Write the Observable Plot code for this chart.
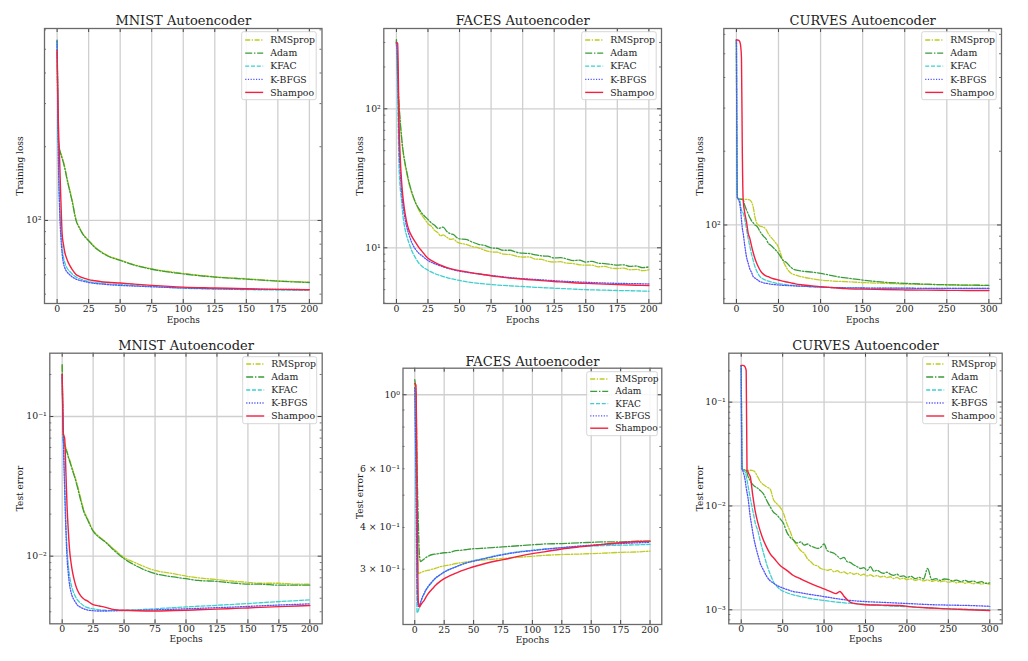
<!DOCTYPE html>
<html><head><meta charset="utf-8">
<script src="https://cdn.jsdelivr.net/npm/d3@7"></script>
<script src="https://cdn.jsdelivr.net/npm/@observablehq/plot@0.6"></script>
<style>
body{margin:0;background:#fff;}
#wrap{position:relative;width:1028px;height:661px;overflow:hidden;background:#fff;}
#wrap svg{position:absolute;}
</style></head><body><div id="wrap"></div>
<script>
// ================= DATA =================
const methods = ["RMSprop", "Adam", "KFAC", "K-BFGS", "Shampoo"];

// --- MNIST training loss ---
const mnistTrainEpochs = [0,1,2,3,4,5,6,8,10,12,15,18,20,25,30,35,40,50,60,75,100,125,150,175,200];
const mnistTrainRMSprop = [543,215,196,188,181,174,166,148,134,121,101,93,89,83,78,74.5,72,69,66.2,63.5,60.8,58.9,57.8,56.7,56.0];
const mnistTrainAdam = [545,210,194,186,179,172,164,146,132,119,100,92.5,88.5,82.6,77.5,74.2,71.6,68.7,66,63.2,60.5,58.7,57.6,56.5,55.8];
const mnistTrainKFAC = [540,190,118,92,78,71,67.5,63.8,62,60.4,58.7,57.8,57.3,56.3,55.8,55.4,55.1,54.7,54.3,53.8,52.9,52.5,52.2,52.0,51.9];
const mnistTrainKBFGS = [540,180,110,85,73,67,64.2,61.5,60,58.8,57.6,56.9,56.6,55.8,55.3,55,54.7,54.3,54,53.6,53,52.6,52.4,52.3,52.2];
const mnistTrainShampoo = [495,250,176,120,88,80,74.5,69,65.5,63,60.2,59,58.4,57.3,56.7,56.2,55.9,55.5,55,54.3,53.4,53,52.6,52.3,52.1];

// --- FACES training loss ---
const facesTrainEpochsNoisy = [0,1,2,3,4,5,6,8,10,12,14,16,18,20,22,25,28,30,33,35,37,40,43,45,48,50,55,60,65,70,75,80,85,90,95,100,105,110,115,120,125,130,135,140,145,150,155,160,165,170,175,180,185,190,195,200];
const facesTrainRMSprop = [310,160,105,78,62,51,44,35,29,25,22.3,20.3,18.5,17.2,16.3,14.9,14.2,13.4,12.8,12.2,12.4,11.9,11.5,11.6,11.0,10.8,10.6,10.2,10.0,9.6,9.35,9.3,9.0,8.95,8.7,8.58,8.6,8.3,8.25,8.0,7.9,7.95,7.75,7.7,7.55,7.5,7.5,7.3,7.35,7.15,7.1,7.15,6.95,7.0,6.85,6.95];
const facesTrainAdam = [315,170,112,82,64,52,45,36,29.5,25.5,22.5,20.3,19,17.8,17,16,15,14.6,13.8,13.9,14.1,13.1,12.6,12.5,11.8,11.6,11.5,11.0,10.6,10.4,10.0,9.9,9.6,9.6,9.3,9.15,9.1,8.9,8.75,8.7,8.45,8.5,8.3,8.1,8.15,7.9,8.0,7.75,7.7,7.6,7.5,7.55,7.35,7.4,7.2,7.3];
const facesTrainEpochs = [0,1,2,3,4,5,6,8,10,12,15,18,20,25,30,35,40,45,50,60,70,80,90,100,110,125,140,150,160,175,190,200];
const facesTrainKFAC = [300,120,40,27,22,17.5,15,12.3,10.8,9.6,8.5,7.7,7.4,6.9,6.55,6.3,6.1,5.95,5.82,5.62,5.5,5.4,5.33,5.27,5.2,5.12,5.05,5.0,4.97,4.93,4.9,4.87];
const facesTrainKBFGS = [300,200,60,36,26,21,18,14.3,12.4,11,9.8,9.1,8.8,8.1,7.7,7.4,7.15,6.95,6.8,6.58,6.4,6.25,6.1,6.0,5.92,5.8,5.7,5.65,5.6,5.55,5.52,5.5];
const facesTrainShampoo = [300,295,82,45,31,24,20,15.5,13.3,12.2,11,10,9.5,8.4,7.9,7.5,7.2,7.0,6.85,6.6,6.4,6.2,6.05,5.95,5.85,5.72,5.6,5.55,5.5,5.43,5.38,5.35];

// --- CURVES training loss ---
const curvesTrainEpochs = [0,1,2,3,4,5,6,7,8,10,12,14,16,18,20,22,24,26,28,30,32,35,38,40,45,50,55,60,65,70,80,90,100,110,120,130,150,175,200,225,250,275,300];
const curvesTrainRMSprop = [569,130,128,127.5,127.5,127.5,127.5,127.5,127.5,127.3,127.3,127,126.5,124,118,108,102,100,99,98.5,98,96,92,90,86,81,72,66.5,63.5,62.5,61.2,60.3,59.6,59.2,58.9,58.7,58.2,57.8,57.4,57.2,57,56.8,56.7];
const curvesTrainAdam = [569,130,128,127.5,127.5,127.5,127.3,127,126.5,120,115,111,107,104,102,100,99,97,94,92,90,88,84,83,80,76.6,72,70,67,65.5,64.7,64.2,63.5,62.5,61.5,60.8,59.6,58.4,57.8,57.3,57,56.8,56.7];
const curvesTrainKFAC = [569,130,128,127,126,120,115,113,112,105,96,88,81.6,76,71.5,67.6,65,63,61.5,60.7,60.1,59.5,59,58.7,58.1,57.6,57.3,57,56.8,56.5,56.2,55.9,55.7,55.6,55.5,55.4,55.3,55.2,55.2,55.1,55.1,55.1,55.1];
const curvesTrainKBFGS = [569,130,128,126,122,115,105,97,92.5,82,74,69.8,66,64,61.5,60.7,60,59.4,58.7,58.4,58.1,57.8,57.6,57.4,57.1,56.9,56.7,56.6,56.5,56.4,56.2,56,55.8,55.6,55.5,55.4,55.3,55.2,55.2,55.1,55.1,55.1,55.1];
const curvesTrainShampoo = [569,569,568,566,560,540,480,200,127,111.6,103,92.5,88,82,77,73,70,67.5,65.5,64,63,62,61.5,61,60.2,59.6,59,58.5,58,57.5,56.9,56.4,56,55.6,55.3,55,54.7,54.5,54.3,54.2,54.1,54.05,54];

// --- MNIST test error ---
const mnistTestEpochs = [0,1,2,3,4,5,6,7,8,10,12,15,18,20,25,30,35,40,45,50,60,75,90,100,110,125,140,150,160,175,190,200];
const mnistTestRMSprop = [0.232,0.068,0.064,0.060,0.056,0.052,0.049,0.046,0.043,0.038,0.033,0.026,0.0207,0.019,0.0153,0.0138,0.0127,0.0116,0.0106,0.0098,0.0089,0.0079,0.0075,0.0072,0.0070,0.0068,0.0066,0.0065,0.0064,0.0064,0.0063,0.0063];
const mnistTestAdam = [0.235,0.066,0.062,0.058,0.055,0.051,0.048,0.045,0.042,0.037,0.032,0.025,0.0202,0.0186,0.0151,0.0136,0.0126,0.0114,0.0104,0.0096,0.0085,0.0075,0.0071,0.0069,0.0067,0.0066,0.0064,0.0063,0.0063,0.0062,0.0062,0.0062];
const mnistTestKFAC = [0.2,0.07,0.035,0.018,0.011,0.0085,0.0072,0.0064,0.0059,0.0053,0.0049,0.0046,0.00438,0.0043,0.0042,0.00413,0.0041,0.00409,0.00409,0.0041,0.00413,0.0042,0.00428,0.00433,0.00438,0.00445,0.00453,0.00458,0.00464,0.00473,0.00481,0.00487];
const mnistTestKBFGS = [0.2,0.065,0.03,0.015,0.0095,0.0074,0.0062,0.0056,0.0052,0.0048,0.0045,0.0043,0.00418,0.00413,0.00407,0.00405,0.00405,0.00406,0.00407,0.00408,0.0041,0.00413,0.00417,0.0042,0.00423,0.00428,0.00433,0.00437,0.00441,0.00447,0.00452,0.00456];
const mnistTestShampoo = [0.2,0.075,0.07,0.04,0.022,0.015,0.011,0.0092,0.008,0.0066,0.0058,0.0052,0.0049,0.0048,0.0045,0.0044,0.0043,0.00418,0.00412,0.0041,0.00407,0.00405,0.00408,0.0041,0.00413,0.00418,0.00423,0.00426,0.0043,0.00435,0.0044,0.00444];

// --- FACES test error ---
const facesTestEpochs = [0,1,2,3,4,5,6,8,10,12,15,18,20,25,30,35,40,45,50,60,70,80,90,100,110,125,140,150,160,175,190,200];
const facesTestRMSprop = [1.08,0.9,0.5,0.291,0.292,0.293,0.294,0.296,0.297,0.298,0.3,0.302,0.304,0.307,0.309,0.312,0.314,0.316,0.318,0.32,0.322,0.324,0.326,0.328,0.33,0.332,0.333,0.334,0.335,0.337,0.338,0.34];
const facesTestAdam = [1.11,1.0,0.6,0.42,0.33,0.316,0.318,0.322,0.326,0.329,0.332,0.333,0.334,0.336,0.337,0.341,0.342,0.344,0.3455,0.347,0.349,0.351,0.353,0.355,0.357,0.358,0.36,0.361,0.362,0.362,0.364,0.364];
const facesTestKFAC = [1.05,0.5,0.222,0.225,0.232,0.238,0.244,0.253,0.261,0.267,0.275,0.282,0.286,0.294,0.3,0.305,0.31,0.314,0.318,0.324,0.33,0.335,0.339,0.342,0.345,0.348,0.351,0.352,0.353,0.354,0.355,0.356];
const facesTestKBFGS = [1.05,0.6,0.27,0.232,0.233,0.239,0.245,0.254,0.262,0.268,0.276,0.283,0.286,0.294,0.3,0.305,0.31,0.314,0.317,0.323,0.329,0.334,0.338,0.341,0.344,0.348,0.352,0.354,0.356,0.358,0.36,0.361];
const facesTestShampoo = [1.08,1.07,0.5,0.24,0.231,0.234,0.237,0.242,0.249,0.255,0.262,0.269,0.273,0.281,0.287,0.292,0.297,0.301,0.305,0.312,0.318,0.323,0.329,0.334,0.338,0.345,0.35,0.353,0.356,0.36,0.363,0.364];

// --- CURVES test error ---
const curvesTestEpochsNoisy = [0,1,2,4,6,8,10,13,16,20,23,27,31,35,39,43,47,51,55,59,63,67,72,76,80,84,88,92,96,100,104,108,112,116,120,124,128,132,136,140,144,148,152,156,160,164,168,172,176,180,184,188,192,196,200,205,210,215,220,225,230,235,240,245,250,255,260,265,270,275,280,285,290,295,300];
const curvesTestRMSprop = [0.225,0.0225,0.022,0.0222,0.022,0.022,0.0221,0.022,0.0215,0.019,0.0172,0.016,0.0152,0.0145,0.0115,0.0105,0.0097,0.0085,0.0068,0.0057,0.0047,0.0042,0.0037,0.0035,0.0031,0.0029,0.0027,0.00265,0.0025,0.00245,0.0024,0.00245,0.00232,0.00238,0.00228,0.00232,0.00222,0.00228,0.0022,0.00225,0.00215,0.0022,0.00212,0.00217,0.0021,0.00214,0.00207,0.00211,0.00204,0.00208,0.002,0.00205,0.00198,0.00202,0.00195,0.00199,0.00192,0.00196,0.0019,0.00194,0.00188,0.00192,0.00186,0.0019,0.00184,0.00188,0.00182,0.00186,0.0018,0.00184,0.00178,0.00182,0.00177,0.0018,0.00176];
const curvesTestAdam = [0.225,0.0228,0.0224,0.0222,0.022,0.0195,0.018,0.0164,0.0155,0.0148,0.0141,0.013,0.0112,0.0098,0.0087,0.0082,0.0075,0.0068,0.0056,0.005,0.0047,0.0044,0.0045,0.0042,0.0043,0.0041,0.004,0.0039,0.0040,0.0043,0.0037,0.0036,0.0035,0.0033,0.0031,0.0032,0.0029,0.00285,0.0027,0.0026,0.0025,0.00255,0.0024,0.0026,0.00235,0.0024,0.0023,0.00225,0.0023,0.0022,0.00215,0.0022,0.0021,0.00212,0.00205,0.0021,0.002,0.00205,0.00198,0.0025,0.00195,0.002,0.00192,0.00198,0.00196,0.0019,0.00193,0.00187,0.00192,0.00186,0.00189,0.00183,0.00187,0.0018,0.00182];
const curvesTestEpochs = [0,1,2,3,4,5,6,8,11,13,15,17,20,23,27,31,35,39,43,47,55,63,72,80,90,100,110,128,150,170,190,210,230,250,275,300];
const curvesTestKFAC = [0.225,0.0228,0.0225,0.0222,0.0218,0.021,0.0195,0.016,0.0118,0.0098,0.0082,0.0068,0.0058,0.0046,0.0035,0.0027,0.0022,0.00185,0.00168,0.00157,0.00146,0.00139,0.00134,0.0013,0.00126,0.00123,0.0012,0.00116,0.00113,0.0011,0.00108,0.00106,0.00104,0.00102,0.00101,0.001];
const curvesTestKBFGS = [0.225,0.0228,0.0218,0.0204,0.019,0.0172,0.015,0.0122,0.0078,0.0062,0.005,0.0042,0.0034,0.0028,0.0024,0.00208,0.0019,0.0018,0.00172,0.00166,0.00157,0.0015,0.00146,0.00142,0.00138,0.00134,0.0013,0.00124,0.0012,0.00118,0.00116,0.00114,0.00112,0.00111,0.0011,0.00108];
const curvesTestShampooEpochs = [0,1,2,3,4,5,6,7,8,9,11,14,17,20,25,30,35,40,47,55,63,72,80,92,104,110,114,117,119,121,124,128,132,140,150,170,190,210,230,250,275,300];
const curvesTestShampoo = [0.2254,0.226,0.226,0.225,0.222,0.215,0.2,0.022,0.0215,0.0205,0.019,0.0125,0.0088,0.0069,0.0051,0.0041,0.00346,0.0031,0.00267,0.0024,0.00214,0.00198,0.00185,0.00168,0.00154,0.00147,0.00143,0.00147,0.0015,0.00146,0.00135,0.00125,0.00118,0.00114,0.00112,0.00111,0.0011,0.00106,0.00104,0.00102,0.001,0.000985];

// --- tick values ---
const epochTicks200 = [0,25,50,75,100,125,150,175,200];
const epochTicks300 = [0,50,100,150,200,250,300];
const mnistTrainYTicks = [100];
const facesTrainYTicks = [10,100];
const curvesTrainYTicks = [100];
const mnistTestYTicks = [0.01,0.1];
const facesTestYTicks = [1];
const facesTestYLabels = [1,0.6,0.4,0.3];
const curvesTestYTicks = [0.001,0.01,0.1];

// ================= STYLE =================
const styles = [
  {color:"#bfcc22", dash:"5,1.6,1.2,1.6", width:1.3},
  {color:"#3a9c3a", dash:"7,1.8,1.4,1.8", width:1.3},
  {color:"#3fcfcf", dash:"4,1.8", width:1.3},
  {color:"#5454ff", dash:"1.2,1.5", width:1.3},
  {color:"#f51f3f", dash:null, width:1.4}
];
const SERIF = '"DejaVu Serif", serif';

function supExp(n){
  const m={"-":"\u207B","0":"\u2070","1":"\u00B9","2":"\u00B2","3":"\u00B3","4":"\u2074","5":"\u2075","6":"\u2076","7":"\u2077","8":"\u2078","9":"\u2079"};
  return String(n).split("").map(c=>m[c]).join("");
}
function logLabel(v){
  const e = Math.floor(Math.log10(v)+1e-9);
  const m = Math.round(v/Math.pow(10,e));
  return m===1 ? "10"+supExp(e) : m+" \u00D7 10"+supExp(e);
}
function minorTicks(dom){
  const out=[];
  for(let k=Math.floor(Math.log10(dom[0])); k<=Math.ceil(Math.log10(dom[1])); k++)
    for(let m=2;m<=9;m++){const t=m*Math.pow(10,k); if(t>=dom[0]&&t<=dom[1]) out.push(t);}
  return out;
}

const panels = [
  {left:0,top:0,width:340,height:330,mL:44,mR:18.5,mT:28,mB:27,xDomain:[-10,210],xTicks:epochTicks200,
   yDomain:[45.8,607.8],yMajor:mnistTrainYTicks,yLabels:mnistTrainYTicks,title:"MNIST Autoencoder",ylabel:"Training loss",
   titleY:20.5,ylabX:20,xlabY:319.5,legend:{x:241.7,y:31.7,w:74.5,h:68,first:8.3,step:13.1,fs:9.3},
   series:[[mnistTrainEpochs,mnistTrainRMSprop],[mnistTrainEpochs,mnistTrainAdam],[mnistTrainEpochs,mnistTrainKFAC],[mnistTrainEpochs,mnistTrainKBFGS],[mnistTrainEpochs,mnistTrainShampoo]]},
  {left:340,top:0,width:340,height:330,mL:43.3,mR:19,mT:28,mB:27,xDomain:[-10,210],xTicks:epochTicks200,
   yDomain:[3.975,378.3],yMajor:facesTrainYTicks,yLabels:facesTrainYTicks,title:"FACES Autoencoder",ylabel:"Training loss",
   titleY:20.5,ylabX:20,xlabY:319.5,legend:{x:241.7,y:31.7,w:74.5,h:68,first:8.3,step:13.1,fs:9.3},
   series:[[facesTrainEpochsNoisy,facesTrainRMSprop],[facesTrainEpochsNoisy,facesTrainAdam],[facesTrainEpochs,facesTrainKFAC],[facesTrainEpochs,facesTrainKBFGS],[facesTrainEpochs,facesTrainShampoo]]},
  {left:680,top:0,width:348,height:330,mL:43.3,mR:27,mT:28,mB:27,xDomain:[-15,315],xTicks:epochTicks300,
   yDomain:[47.8,634],yMajor:curvesTrainYTicks,yLabels:curvesTrainYTicks,title:"CURVES Autoencoder",ylabel:"Training loss",
   titleY:20.5,ylabX:20,xlabY:319.5,legend:{x:241.7,y:31.7,w:74.5,h:68,first:8.3,step:13.1,fs:9.3},
   series:[[curvesTrainEpochs,curvesTrainRMSprop],[curvesTrainEpochs,curvesTrainAdam],[curvesTrainEpochs,curvesTrainKFAC],[curvesTrainEpochs,curvesTrainKBFGS],[curvesTrainEpochs,curvesTrainShampoo]]},
  {left:0,top:330,width:340,height:331,mL:49.3,mR:18.3,mT:22.7,mB:37.7,xDomain:[-10,210],xTicks:epochTicks200,
   yDomain:[0.00328,0.284],yMajor:mnistTestYTicks,yLabels:mnistTestYTicks,title:"MNIST Autoencoder",ylabel:"Test error",
   titleY:15,ylabX:20,xlabY:308.3,legend:{x:242.7,y:26.7,w:74,h:67,first:7.3,step:13,fs:9.3},
   series:[[mnistTestEpochs,mnistTestRMSprop],[mnistTestEpochs,mnistTestAdam],[mnistTestEpochs,mnistTestKFAC],[mnistTestEpochs,mnistTestKBFGS],[mnistTestEpochs,mnistTestShampoo]]},
  {left:340,top:330,width:340,height:331,mL:62.5,mR:18.7,mT:37.7,mB:37,xDomain:[-10,210],xTicks:epochTicks200,
   yDomain:[0.2048,1.201],yMajor:facesTestYTicks,yLabels:facesTestYLabels,title:"FACES Autoencoder",ylabel:"Test error",
   titleY:31.7,ylabX:20,xlabY:309.3,legend:{x:246.7,y:41.7,w:70.6,h:64,first:7.3,step:12.3,fs:9},
   series:[[facesTestEpochs,facesTestRMSprop],[facesTestEpochs,facesTestAdam],[facesTestEpochs,facesTestKFAC],[facesTestEpochs,facesTestKBFGS],[facesTestEpochs,facesTestShampoo]]},
  {left:680,top:330,width:348,height:331,mL:48.3,mR:26.3,mT:22.7,mB:37.7,xDomain:[-15,315],xTicks:epochTicks300,
   yDomain:[0.000733,0.296],yMajor:curvesTestYTicks,yLabels:curvesTestYTicks,title:"CURVES Autoencoder",ylabel:"Test error",
   titleY:15,ylabX:20,xlabY:308.3,legend:{x:242.7,y:26.7,w:74,h:67,first:7.3,step:13,fs:9.3},
   series:[[curvesTestEpochsNoisy,curvesTestRMSprop],[curvesTestEpochsNoisy,curvesTestAdam],[curvesTestEpochs,curvesTestKFAC],[curvesTestEpochs,curvesTestKBFGS],[curvesTestShampooEpochs,curvesTestShampoo]]}
];

function buildPanel(cfg){
  const fw = cfg.width - cfg.mL - cfg.mR, fh = cfg.height - cfg.mT - cfg.mB;
  const minor = minorTicks(cfg.yDomain).filter(t=>!cfg.yMajor.some(M=>Math.abs(M-t)/M<1e-6));
  const tickColor = "#333";
  const marks = [
    Plot.gridX(cfg.xTicks,{stroke:"#cfcfcf",strokeOpacity:1,strokeWidth:1.3}),
    Plot.gridY(cfg.yMajor,{stroke:"#cfcfcf",strokeOpacity:1,strokeWidth:1.3})
  ];
  cfg.series.forEach(([xs,ys],i)=>{
    const data = xs.map((e,j)=>({e, v:ys[j]}));
    marks.push(Plot.line(data,{x:"e",y:"v",stroke:styles[i].color,strokeWidth:styles[i].width,
      strokeDasharray:styles[i].dash||undefined,curve:"monotone-x",clip:true}));
  });
  marks.push(
    Plot.ruleY(cfg.yMajor,{insetRight:fw-4,stroke:tickColor,strokeWidth:0.9}),
    Plot.ruleY(cfg.yMajor,{insetLeft:fw-4,stroke:tickColor,strokeWidth:0.9}),
    Plot.ruleY(minor,{insetRight:fw-2,stroke:tickColor,strokeWidth:0.7}),
    Plot.ruleY(minor,{insetLeft:fw-2,stroke:tickColor,strokeWidth:0.7}),
    Plot.ruleX(cfg.xTicks,{insetTop:fh-4,stroke:tickColor,strokeWidth:0.9}),
    Plot.ruleX(cfg.xTicks,{insetBottom:fh-4,stroke:tickColor,strokeWidth:0.9}),
    Plot.frame({stroke:"#6a6a6a",strokeWidth:1.3}),
    Plot.axisX({ticks:cfg.xTicks,tickSize:0,tickPadding:2,label:null,fontSize:9.3,tickFormat:d=>String(d)}),
    Plot.axisY({ticks:cfg.yLabels,tickSize:0,tickPadding:3,label:null,fontSize:9.3,tickFormat:logLabel}),
    Plot.text([cfg.title],{text:d=>d,frameAnchor:"top",dy:cfg.titleY-cfg.mT,lineAnchor:"middle",fontSize:13}),
    Plot.text([cfg.ylabel],{text:d=>d,frameAnchor:"left",dx:cfg.ylabX-cfg.mL,rotate:-90,lineAnchor:"middle",textAnchor:"middle",fontSize:9}),
    Plot.text(["Epochs"],{text:d=>d,frameAnchor:"bottom",dy:cfg.xlabY-(cfg.height-cfg.mB),lineAnchor:"middle",fontSize:9})
  );
  const svg = Plot.plot({
    width:cfg.width,height:cfg.height,
    marginLeft:cfg.mL,marginRight:cfg.mR,marginTop:cfg.mT,marginBottom:cfg.mB,
    x:{domain:cfg.xDomain,label:null},
    y:{type:"log",domain:cfg.yDomain,label:null},
    style:{fontFamily:SERIF,fontSize:"9px",color:"#222",background:"transparent",overflow:"visible"},
    marks
  });
  svg.style.left = cfg.left+"px";
  svg.style.top = cfg.top+"px";
  // legend box (upper right, like matplotlib's)
  const lg = cfg.legend;
  const g = d3.select(svg).append("g").attr("transform",`translate(${lg.x},${lg.y})`);
  g.append("rect").attr("width",lg.w).attr("height",lg.h).attr("rx",2)
    .attr("fill","white").attr("fill-opacity",0.85).attr("stroke","#cccccc").attr("stroke-width",0.8);
  methods.forEach((m,i)=>{
    const yy = lg.first + i*lg.step;
    g.append("line").attr("x1",3.5).attr("x2",21.5).attr("y1",yy).attr("y2",yy)
      .attr("stroke",styles[i].color).attr("stroke-width",styles[i].width)
      .attr("stroke-dasharray",styles[i].dash);
    g.append("text").attr("x",28.5).attr("y",yy).attr("dy","0.35em")
      .attr("text-anchor","start")
      .attr("font-size",lg.fs).attr("fill","#222").attr("font-family",SERIF).text(m);
  });
  return svg;
}

const wrap = document.getElementById("wrap");
panels.forEach(p=>wrap.appendChild(buildPanel(p)));
</script>
</body></html>
